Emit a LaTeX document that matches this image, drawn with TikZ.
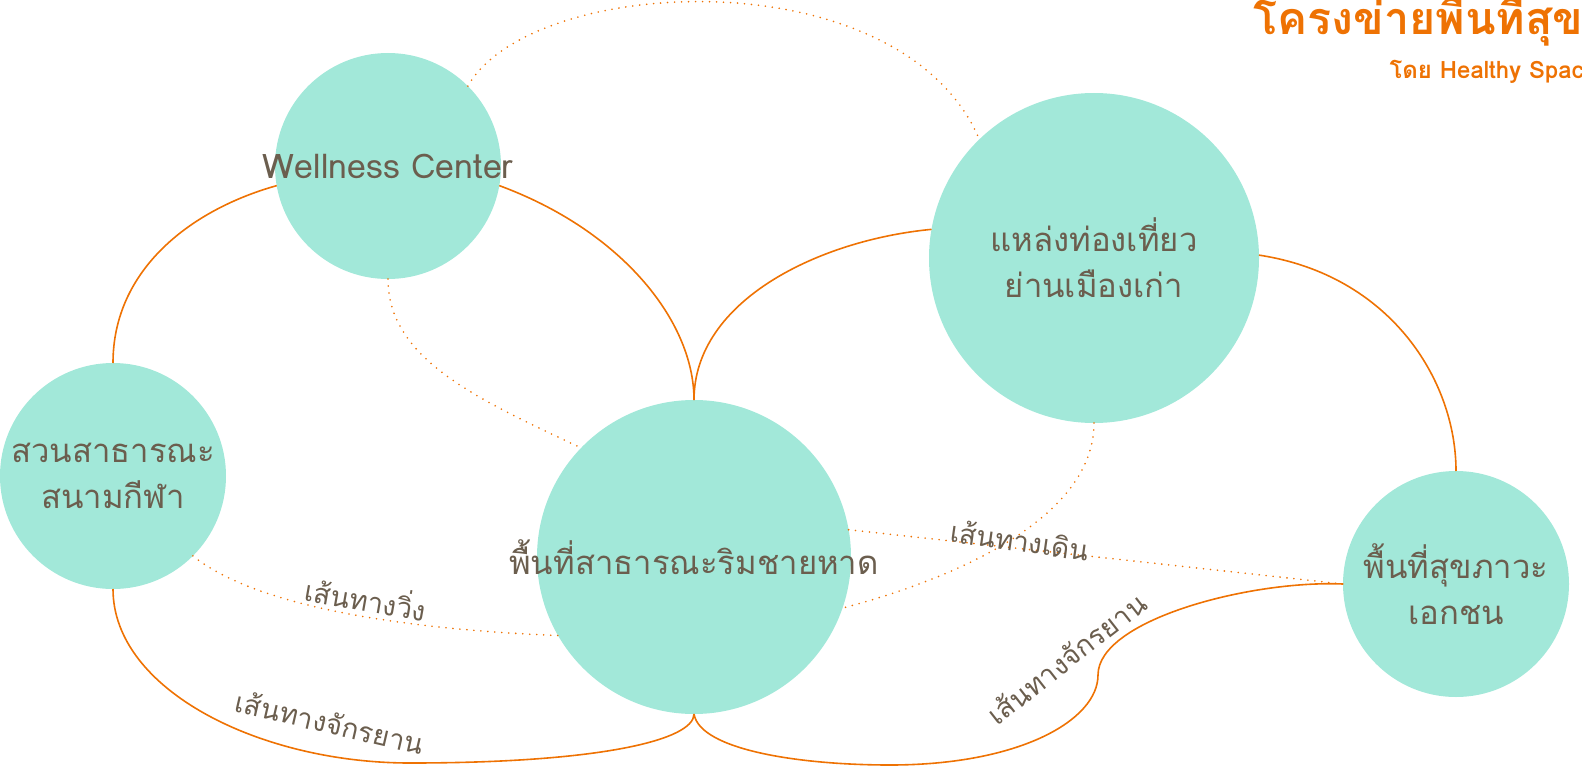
\documentclass[tikz,border=0pt]{standalone}
\usepackage{fontspec}
\newfontfamily\thaifont[Script=Thai]{Loma}
\setmainfont[Script=Thai]{Loma}
\definecolor{mint}{HTML}{A2E8D9}
\definecolor{tangerine}{HTML}{EE7203}
\definecolor{umber}{HTML}{6B5E4E}
\begin{document}
\begin{tikzpicture}[x=1bp, y=-1bp,
		spot/.style={circle, fill=mint, inner sep=0pt, outer sep=0pt},
		spotname/.style={align=center, text=umber, font=\fontsize{33}{46}\selectfont},
		road/.style={draw=tangerine, line width=1.6bp},
		trail/.style={draw=tangerine, line width=1.8bp, line cap=round, dash pattern=on 0pt off 7bp},
		tag/.style={text=umber, font=\fontsize{28}{32}\selectfont}]
	\useasboundingbox (0,0) rectangle (1582,776);

	% places
	\node[spot, minimum size=226bp, label={[spotname, font=\fontsize{34}{40}\selectfont]center:Wellness Center}] (wellness) at (388,166) {};
	\node[spot, minimum size=330bp, label={[spotname]center:แหล่งท่องเที่ยว\\ย่านเมืองเก่า}] (heritage) at (1094,258) {};
	\node[spot, minimum size=226bp, label={[spotname]center:สวนสาธารณะ\\สนามกีฬา}] (park) at (113,476) {};
	\node[spot, minimum size=314bp, label={[spotname]center:พื้นที่สาธารณะริมชายหาด}] (beach) at (694,557) {};
	\node[spot, minimum size=226bp, label={[spotname]center:พื้นที่สุขภาวะ\\เอกชน}] (privhealth) at (1456,584) {};

	% solid links
	\draw[road] (park.90) .. controls (113,270) and (190,210) .. (wellness.190);
	\draw[road] (wellness.350) .. controls (620,230) and (694,320) .. (beach.90);
	\draw[road] (beach.90) .. controls (694,300) and (820,240) .. (heritage.170);
	\draw[road] (heritage.1) .. controls (1390,275) and (1456,380) .. (privhealth.90);
	\draw[road] (park.270) .. controls (113,690) and (260,763) .. (410,763)
		.. controls (600,763) and (694,740) .. (beach.270);
	\draw[road] (beach.270) .. controls (700,750) and (800,765) .. (890,765)
		.. controls (1020,765) and (1098,720) .. (1098,675)
		.. controls (1098,620) and (1250,580) .. (privhealth.180);

	% dotted links
	\draw[trail] (wellness.45) .. controls (530,-25) and (900,-45) .. (heritage.134);
	\draw[trail] (wellness.270) .. controls (388,360) and (480,400) .. (beach.136);
	\draw[trail] (park.315) .. controls (260,610) and (420,630) .. (beach.210);
	\draw[trail] (beach.10) -- (privhealth.180);
	\draw[trail] (heritage.270) .. controls (1094,520) and (950,580) .. (beach.341);

	% labels
	\node[tag, rotate=-10] (runlbl) at (366,597) {เส้นทางวิ่ง};
	\node[tag, rotate=-13] (bikelblA) at (330,722) {เส้นทางจักรยาน};
	\node[tag, rotate=-8] (walklbl) at (1020,540) {เส้นทางเดิน};
	\node[tag, rotate=38] (bikelblB) at (1066,658) {เส้นทางจักรยาน};

	% heading
	\node[anchor=west, text=tangerine, font=\fontsize{45}{50}\bfseries\selectfont] (heading) at (1250,17) {โครงข่ายพื้นที่สุขภาวะ};
	\node[anchor=west, text=tangerine, font=\fontsize{24}{28}\bfseries\selectfont] (byline) at (1386,72) {โดย Healthy Space};
\end{tikzpicture}
\end{document}
